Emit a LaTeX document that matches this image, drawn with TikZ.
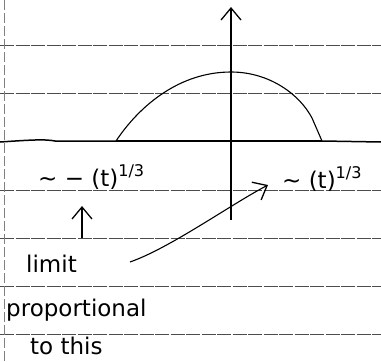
\documentclass[tikz,border=0pt]{standalone}
\usepackage{fontspec}
\setmainfont{DejaVu Sans}
\usetikzlibrary{arrows.meta}
\begin{document}
\begin{tikzpicture}[x=1pt,y=-1pt,
  rule/.style={black!70, line width=0.9pt, dash pattern=on 14pt off 1.5pt},
  ink/.style={black, line width=1.1pt},
  hand/.style={font=\fontsize{23}{23}\selectfont, inner sep=0pt, anchor=base west},
  tip/.style={-{Straight Barb[length=12pt,width=20pt,line width=1.3pt]}}]
\useasboundingbox (0,0) rectangle (381,362);
\fill[white] (0,0) rectangle (381,362);
% paper rules
\foreach \yy in {45,93,190,238,286,334}
  \draw[rule] (0,\yy) -- (381,\yy);
\draw[black!50, line width=0.6pt, dash pattern=on 10pt off 3pt] (4,0) -- (4,362);
% baseline
\draw[ink, line width=1.5pt] (0,142) .. controls (30,140) and (45,139) .. (55,141)
  -- (116,141);
\draw[ink, line width=1.5pt] (322,141) -- (381,142);
\draw[ink, line width=1.5pt] (116,141) -- (322,141);
% axis
\coordinate (axtop) at (231,7);
\coordinate (axbot) at (231,220);
\draw[ink, tip] (axbot) -- (axtop);
% bump
\coordinate (bl) at (116,141);
\coordinate (pk) at (231,72);
\coordinate (br) at (322,141);
\draw[ink] (bl) .. controls (140,105) and (180,72) .. (pk)
  .. controls (270,72) and (300,95) .. (312,118) -- (br);
% labels
\node[hand] (lab1) at (38,186) {∼ − (t)\textsuperscript{1/3}};
\node[hand] (lab2) at (282,188) {∼ (t)\textsuperscript{1/3}};
\node[hand] (limit) at (26,272) {limit};
\node[hand] (prop) at (6,316) {proportional};
\node[hand] (this) at (30,354) {to this};
% arrows
\coordinate (upbot) at (82,238);
\coordinate (uptop) at (82,206);
\draw[ink, tip] (upbot) -- (uptop);
\coordinate (a1) at (130,262);
\coordinate (a2) at (268,185);
\draw[ink, tip] (a1) .. controls (170,248) and (230,205) .. (a2);
\end{tikzpicture}
\end{document}
